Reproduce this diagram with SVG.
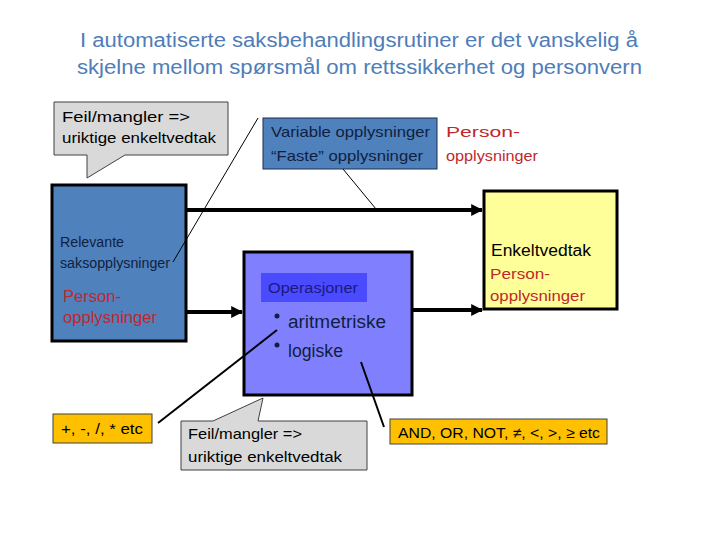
<svg xmlns="http://www.w3.org/2000/svg" width="720" height="540" viewBox="0 0 720 540">
<defs>
<marker id="ah" viewBox="0 0 10 10" refX="9" refY="5" markerWidth="3" markerHeight="3" orient="auto" markerUnits="strokeWidth">
<path d="M0,0 L10,5 L0,10 z" fill="#000"/>
</marker>
<style>
text{font-family:"Liberation Sans",Arial,sans-serif;}
.t{font-size:15px;fill:#000;}
.n{font-size:15px;fill:#0f1f40;}
.r{font-size:15px;fill:#c0282d;}
.title{font-size:20px;fill:#4f7db8;}
.call{fill:#d9d9d9;stroke:#404040;stroke-width:1;}
.gold{fill:#ffc000;stroke:#404040;stroke-width:1;}
.thick{stroke:#000;stroke-width:4;fill:none;}
.thin{stroke:#000;stroke-width:1;fill:none;}
.med{stroke:#000;stroke-width:2;fill:none;}
</style>
</defs>
<rect width="720" height="540" fill="#fff"/>
<g id="title">
<text class="title" x="80" y="47" textLength="558" lengthAdjust="spacingAndGlyphs">I automatiserte saksbehandlingsrutiner er det vanskelig å</text>
<text class="title" x="77" y="74" textLength="565" lengthAdjust="spacingAndGlyphs">skjelne mellom spørsmål om rettssikkerhet og personvern</text>
</g>
<g id="callout1">
<polygon class="call" points="54,102 228,102 228,155 125,155 87,178 87,155 54,155"/>
<text class="t" x="62" y="122" textLength="128" lengthAdjust="spacingAndGlyphs">Feil/mangler =&gt;</text>
<text class="t" x="62" y="143" textLength="154" lengthAdjust="spacingAndGlyphs">uriktige enkeltvedtak</text>
</g>
<g id="variable">
<rect x="263" y="118" width="174" height="51" fill="#4f81bd" stroke="#1f2f4f" stroke-width="1"/>
<text class="n" x="271" y="137" textLength="159" lengthAdjust="spacingAndGlyphs">Variable opplysninger</text>
<text class="n" x="271" y="161" textLength="152" lengthAdjust="spacingAndGlyphs">“Faste” opplysninger</text>
</g>
<g id="person-top">
<text class="r" x="446" y="137" textLength="74" lengthAdjust="spacingAndGlyphs">Person-</text>
<text class="r" x="446" y="161" textLength="92" lengthAdjust="spacingAndGlyphs">opplysninger</text>
</g>
<g id="relevante">
<rect x="52" y="185" width="134" height="156" fill="#4f81bd" stroke="#000" stroke-width="3"/>
<text class="n" style="font-size:14px" x="60" y="247" textLength="64" lengthAdjust="spacingAndGlyphs">Relevante</text>
<text class="n" style="font-size:14px" x="60" y="268" textLength="110" lengthAdjust="spacingAndGlyphs">saksopplysninger</text>
<text class="r" style="font-size:16px" x="63" y="302" textLength="58" lengthAdjust="spacingAndGlyphs">Person-</text>
<text class="r" style="font-size:16px" x="63" y="323" textLength="94" lengthAdjust="spacingAndGlyphs">opplysninger</text>
</g>
<g id="operasjoner">
<rect x="244" y="252" width="168" height="143" fill="#8080ff" stroke="#000" stroke-width="3"/>
<rect x="261" y="273" width="106" height="29" fill="#4a4aff"/>
<text style="font-size:14px;fill:#1a1a80" x="268" y="293" textLength="90" lengthAdjust="spacingAndGlyphs">Operasjoner</text>
<circle cx="277" cy="316" r="2.5" fill="#0f1f40"/>
<circle cx="277" cy="345" r="2.5" fill="#0f1f40"/>
<text class="n" style="font-size:18px" x="288" y="328" textLength="98" lengthAdjust="spacingAndGlyphs">aritmetriske</text>
<text class="n" style="font-size:18px" x="288" y="357" textLength="55" lengthAdjust="spacingAndGlyphs">logiske</text>
</g>
<g id="enkeltvedtak">
<rect x="484" y="191" width="133" height="118" fill="#ffff99" stroke="#000" stroke-width="3"/>
<text class="t" style="font-size:16px" x="491" y="256" textLength="100" lengthAdjust="spacingAndGlyphs">Enkeltvedtak</text>
<text class="r" x="490" y="279" textLength="60" lengthAdjust="spacingAndGlyphs">Person-</text>
<text class="r" x="490" y="301" textLength="95" lengthAdjust="spacingAndGlyphs">opplysninger</text>
</g>
<g id="ops-arith">
<rect class="gold" x="53" y="414" width="99" height="29"/>
<text class="t" x="61" y="434" textLength="82" lengthAdjust="spacingAndGlyphs">+, -, /, * etc</text>
</g>
<g id="ops-logic">
<rect class="gold" x="390" y="419" width="217" height="25"/>
<text class="t" x="398" y="438" textLength="202" lengthAdjust="spacingAndGlyphs">AND, OR, NOT, ≠, &lt;, &gt;, ≥ etc</text>
</g>
<g id="callout2">
<polygon class="call" points="181,421 213,421 263,398 258,421 367,421 367,470 181,470"/>
<text class="t" x="188" y="439" textLength="114" lengthAdjust="spacingAndGlyphs">Feil/mangler =&gt;</text>
<text class="t" x="188" y="462" textLength="154" lengthAdjust="spacingAndGlyphs">uriktige enkeltvedtak</text>
</g>
<g id="connectors">
<line class="thick" x1="187" y1="210" x2="482" y2="210" marker-end="url(#ah)"/>
<line class="thick" x1="187" y1="312" x2="242" y2="312" marker-end="url(#ah)"/>
<line class="thick" x1="413" y1="310" x2="482" y2="310" marker-end="url(#ah)"/>
<line class="thin" x1="343" y1="169" x2="376" y2="209"/>
<line class="thin" x1="258" y1="118" x2="173" y2="262"/>
<line class="med" x1="158" y1="423" x2="277" y2="330"/>
<line class="med" x1="361" y1="362" x2="384" y2="427"/>
</g>
</svg>
